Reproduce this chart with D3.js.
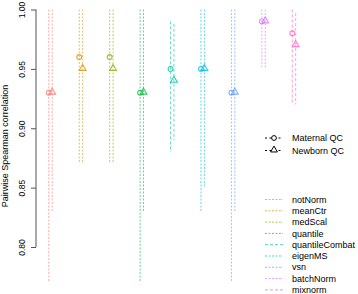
<!DOCTYPE html>
<html lang="en">
<head>
<meta charset="utf-8">
<title>Pairwise Spearman correlation</title>
<script type="text/javascript" src="https://cdn.jsdelivr.net/npm/d3@7"></script>
<style type="text/css">
    body { margin: 0; background: #fff; }
    text { font-family: "Liberation Sans", Arial, sans-serif; }
</style>
</head>
<body>
<script type="text/javascript">
// categories and values
var categories = ["notNorm", "meanCtr", "medScal", "quantile", "quantileCombat", "eigenMS", "vsn", "batchNorm", "mixnorm"];
var colors = ["#F8766D", "#D39200", "#93AA00", "#00BA38", "#00C19F", "#00B9E3", "#619CFF", "#DB72FB", "#FF61C3"];
var maternalMed = [0.93, 0.96, 0.96, 0.93, 0.95, 0.95, 0.93, 0.99, 0.98];
var newbornMed = [0.93, 0.95, 0.95, 0.93, 0.94, 0.95, 0.93, 0.99, 0.97];
var maternalLow = [0.77, 0.87, 0.87, 0.77, 0.88, 0.83, 0.77, 0.95, 0.92];
var maternalHigh = [1.00, 1.00, 1.00, 1.00, 0.99, 1.00, 1.00, 1.00, 1.00];
var newbornLow = [0.83, 0.87, 0.87, 0.83, 0.89, 0.85, 0.83, 0.95, 0.92];
var newbornHigh = [1.00, 1.00, 1.00, 1.00, 0.988, 1.00, 1.00, 1.00, 0.997];
var yTicks = [0.80, 0.85, 0.90, 0.95, 1.00];
var qcLabels = ["Maternal QC", "Newborn QC"];

var w = 358, h = 294;
var svg = d3.select("body").append("svg").attr("width", w).attr("height", h);

var xScale = d3.scalePoint().domain(categories).range([50.5, 294]);
var yScale = d3.scaleLinear().domain([0.80, 1.00]).range([247, 9.5]);
var off = 1.7;

// y axis (base-R style, rotated labels)
var yAxis = d3.axisLeft(yScale).tickValues(yTicks).tickFormat(d3.format(".2f")).tickSize(5);
var gy = svg.append("g").attr("transform", "translate(36,0)").call(yAxis);
gy.select(".domain").attr("stroke", "#555").attr("d", "M0," + yScale(0.80) + "V" + yScale(1.00));
gy.selectAll(".tick line").attr("stroke", "#555");
gy.selectAll(".tick text")
    .attr("font-size", 8.5).attr("fill", "#000")
    .attr("transform", "rotate(-90)")
    .attr("x", 0)
    .attr("y", -11)
    .attr("dy", "0")
    .attr("text-anchor", "middle");

svg.append("text")
    .attr("transform", "translate(8,146) rotate(-90)")
    .attr("text-anchor", "middle")
    .attr("font-size", 9)
    .text("Pairwise Spearman correlation");

// build rows
var rows = categories.map(function(c, i) {
    return {cat: c, col: colors[i],
        mLow: maternalLow[i], mHigh: maternalHigh[i], mMed: maternalMed[i],
        nLow: newbornLow[i], nHigh: newbornHigh[i], nMed: newbornMed[i]};
});

var g = svg.append("g");
var dash = function(d) { return (d.cat === "quantileCombat" || d.cat === "mixnorm") ? "3,2" : "2,1.5"; };

// range lines
g.selectAll("line.mat").data(rows).enter().append("line")
    .attr("x1", function(d) { return xScale(d.cat) - off; })
    .attr("x2", function(d) { return xScale(d.cat) - off; })
    .attr("y1", function(d) { return yScale(d.mHigh); })
    .attr("y2", function(d) { return yScale(d.mLow); })
    .attr("stroke", function(d) { return d.col; })
    .attr("stroke-opacity", 0.6)
    .attr("stroke-dasharray", dash);

g.selectAll("line.nb").data(rows).enter().append("line")
    .attr("x1", function(d) { return xScale(d.cat) + off; })
    .attr("x2", function(d) { return xScale(d.cat) + off; })
    .attr("y1", function(d) { return yScale(d.nHigh); })
    .attr("y2", function(d) { return yScale(d.nLow); })
    .attr("stroke", function(d) { return d.col; })
    .attr("stroke-opacity", 0.6)
    .attr("stroke-dasharray", dash);

// points
var tri = d3.symbol().type(d3.symbolTriangle).size(20);
g.selectAll("circle").data(rows).enter().append("circle")
    .attr("cx", function(d) { return xScale(d.cat) - off; })
    .attr("cy", function(d) { return yScale(d.mMed); })
    .attr("r", 2.4)
    .attr("fill", "none")
    .attr("stroke", function(d) { return d.col; })
    .attr("stroke-opacity", 0.8)
    .attr("stroke-width", 1.1);

g.selectAll("path.tri").data(rows).enter().append("path")
    .attr("d", tri)
    .attr("transform", function(d) { return "translate(" + (xScale(d.cat) + off) + "," + (yScale(d.nMed) - 0.5) + ")"; })
    .attr("fill", "none")
    .attr("stroke", function(d) { return d.col; })
    .attr("stroke-opacity", 0.8)
    .attr("stroke-width", 1.1);

// legend: QC shapes
var lg = svg.append("g");
qcLabels.forEach(function(lab, i) {
    var y = 138 + i * 12.5;
    lg.append("line").attr("x1", 265).attr("x2", 283).attr("y1", y).attr("y2", y)
        .attr("stroke", "#000").attr("stroke-dasharray", "2,2.5");
    if (i === 0) {
        lg.append("circle").attr("cx", 274).attr("cy", y).attr("r", 2.4)
            .attr("fill", "#fff").attr("stroke", "#000");
    } else {
        lg.append("path").attr("d", tri).attr("transform", "translate(274," + (y - 0.5) + ")")
            .attr("fill", "#fff").attr("stroke", "#000");
    }
    lg.append("text").attr("x", 292).attr("y", y).attr("dy", "0.35em")
        .attr("font-size", 9).text(lab);
});

// legend: methods
categories.forEach(function(c, i) {
    var y = 199.5 + i * 11.3;
    lg.append("line").attr("x1", 265).attr("x2", 283).attr("y1", y).attr("y2", y)
        .attr("stroke", colors[i]).attr("stroke-opacity", 0.7)
        .attr("stroke-dasharray", (c === "quantileCombat" || c === "mixnorm") ? "3,2" : "2,1.5");
    lg.append("text").attr("x", 292).attr("y", y).attr("dy", "0.35em")
        .attr("font-size", 9).text(c);
});
</script>
</body>
</html>
